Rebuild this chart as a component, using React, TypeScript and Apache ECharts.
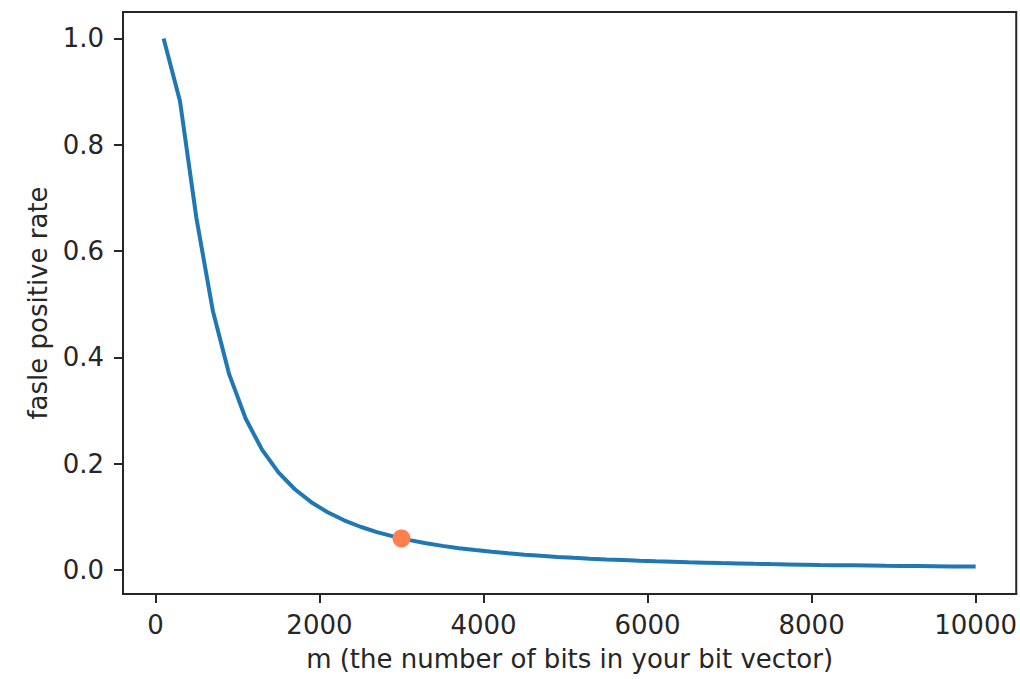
import React, { useEffect, useRef } from "react";
import * as echarts from "echarts";

// m (number of bits) sampled along the curve
const M_VALUES = [
  100, 300, 500, 700, 900, 1100, 1300, 1500, 1700, 1900,
  2100, 2300, 2500, 2700, 2900, 3100, 3300, 3500, 3700, 3900,
  4100, 4300, 4500, 4700, 4900, 5100, 5300, 5500, 5700, 5900,
  6100, 6300, 6500, 6700, 6900, 7100, 7300, 7500, 7700, 7900,
  8100, 8300, 8500, 8700, 8900, 9100, 9300, 9500, 9700, 9900, 10000,
];
// false positive rate
const FP_RATE = [
  1.0, 0.882, 0.662, 0.488, 0.368, 0.285, 0.2265, 0.1839, 0.152, 0.1277,
  0.1087, 0.0936, 0.0815, 0.0715, 0.0633, 0.0564, 0.0505, 0.0455, 0.0412, 0.0376,
  0.0343, 0.0315, 0.029, 0.0268, 0.0248, 0.0231, 0.0215, 0.02, 0.0188, 0.0176,
  0.0165, 0.0156, 0.0147, 0.0139, 0.0131, 0.0125, 0.0118, 0.0112, 0.0107, 0.0102,
  0.0097, 0.0093, 0.0089, 0.0085, 0.0081, 0.0078, 0.0075, 0.0072, 0.0069, 0.0066, 0.0065,
];
// highlighted point
const MARK_M = [3000];
const MARK_RATE = [0.0596];

const X_TICKS = [0, 2000, 4000, 6000, 8000, 10000];
const Y_TICKS = [0, 0.2, 0.4, 0.6, 0.8, 1.0];

const X_NAME = "m (the number of bits in your bit vector)";
const Y_NAME = "fasle positive rate";

export default function App() {
  const ref = useRef<HTMLDivElement>(null);

  useEffect(() => {
    if (!ref.current) return;
    const chart = echarts.init(ref.current, undefined, { renderer: "svg" });
    const font = "DejaVu Sans";
    const fs = 26;
    const textColor = "#262626";
    const lineData = M_VALUES.map((m, i) => [m, FP_RATE[i]]);
    const markData = MARK_M.map((m, i) => [m, MARK_RATE[i]]);

    chart.setOption({
      animation: false,
      backgroundColor: "#ffffff",
      grid: {
        left: 123,
        right: 3,
        top: 12,
        bottom: 85,
        show: true,
        borderColor: "#262626",
        borderWidth: 2,
        backgroundColor: "transparent",
      },
      xAxis: {
        type: "value",
        min: -395,
        max: 10495,
        name: X_NAME,
        nameLocation: "middle",
        nameGap: 52,
        nameTextStyle: { fontFamily: font, fontSize: fs, color: textColor },
        axisLine: { show: true, onZero: false, lineStyle: { color: "#262626", width: 2 } },
        axisTick: {
          show: true,
          length: 9,
          lineStyle: { color: "#262626", width: 2 },
          customValues: X_TICKS,
        },
        axisLabel: {
          show: true,
          margin: 18,
          fontFamily: font,
          fontSize: fs,
          color: textColor,
          customValues: X_TICKS,
          formatter: (v: number) => String(v),
        },
        splitLine: { show: false },
      },
      yAxis: {
        type: "value",
        min: -0.045,
        max: 1.0497,
        name: Y_NAME,
        nameLocation: "middle",
        nameGap: 72,
        nameRotate: 90,
        nameTextStyle: { fontFamily: font, fontSize: fs, color: textColor },
        axisLine: { show: true, onZero: false, lineStyle: { color: "#262626", width: 2 } },
        axisTick: {
          show: true,
          length: 9,
          lineStyle: { color: "#262626", width: 2 },
          customValues: Y_TICKS,
        },
        axisLabel: {
          show: true,
          margin: 19,
          fontFamily: font,
          fontSize: fs,
          color: textColor,
          customValues: Y_TICKS,
          formatter: (v: number) => v.toFixed(1),
        },
        splitLine: { show: false },
      },
      series: [
        {
          type: "line",
          data: lineData,
          showSymbol: false,
          symbol: "none",
          lineStyle: { color: "#1f77b4", width: 4 },
          z: 2,
        },
        {
          type: "scatter",
          data: markData,
          symbol: "circle",
          symbolSize: 18,
          itemStyle: { color: "#ff7f50", opacity: 1 },
          z: 3,
        },
      ],
    });

    return () => {
      chart.dispose();
    };
  }, []);

  return (
    <div
      ref={ref}
      style={{ position: "fixed", left: 0, top: 0, width: 1020, height: 679 }}
    />
  );
}
